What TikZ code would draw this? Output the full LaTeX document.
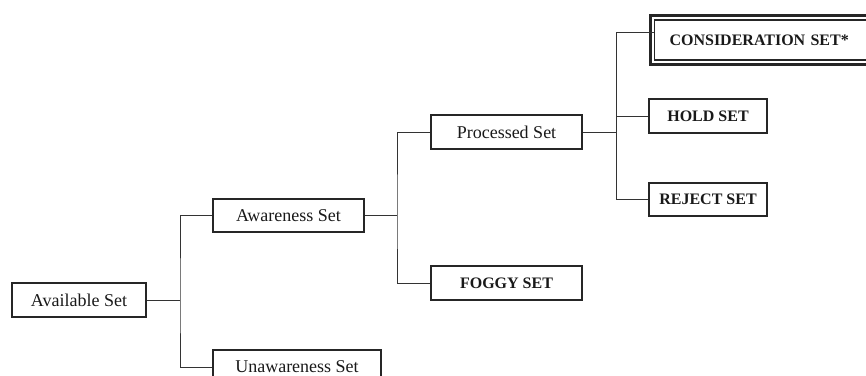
\documentclass[tikz,border=0pt]{standalone}
\usepackage{fontspec}
\setmainfont{Liberation Serif}
\begin{document}
\begin{tikzpicture}[x=1pt,y=-1pt,
  box/.style={draw=black!85, line width=1.1pt, inner sep=0pt, minimum height=34pt,
    font=\fontsize{18}{20}\selectfont, text=black!90},
  bbox/.style={box, font=\fontsize{16}{18}\selectfont\bfseries},
  link/.style={draw=black!80, line width=1pt}]
\useasboundingbox (0,0) rectangle (866,375);
% level 0
\node[box, minimum width=134pt] (avail) at (79,300) {Available Set};
% level 1
\node[box, minimum width=151pt, minimum height=33pt] (aware) at (288.5,215.5) {Awareness Set};
\node[box, minimum width=168pt] (unaware) at (297,367) {Unawareness Set};
% level 2
\node[box, minimum width=151pt] (proc) at (506.5,132) {Processed Set};
\node[bbox, minimum width=151pt] (foggy) at (506.5,283) {FOGGY SET};
% level 3
\node[bbox, anchor=west, minimum height=40pt, text width=220pt, inner xsep=15pt, align=left] (cons) at (654,40) {CONSIDERATION SET*};
\draw[draw=black!85, line width=3pt] ([shift={(-4pt,4pt)}]cons.north west) rectangle ([shift={(4pt,-4pt)}]cons.south east);
\node[bbox, minimum width=118pt] (hold) at (708,116) {HOLD SET};
\node[bbox, minimum width=118pt, minimum height=33pt] (reject) at (708,199.5) {REJECT SET};
% branch points
\coordinate (b1) at (180,300);
\coordinate (b2) at (397,215.5);
\coordinate (b3) at (616,132);
\coordinate (c3) at (616,32);
% connectors
\draw[link] (avail.east) -- (b1);
\draw[link] (aware.west) -| (b1) |- (unaware.west);
\draw[link] (aware.east) -- (b2);
\draw[link] (proc.west) -| (b2) |- (foggy.west);
\draw[link] (proc.east) -- (b3);
\draw[link] (c3) -- (c3 -| cons.west);
\draw[link] (c3) -- (b3) |- (reject.west);
\draw[link] (b3 |- hold.west) -- (hold.west);
\end{tikzpicture}
\end{document}
